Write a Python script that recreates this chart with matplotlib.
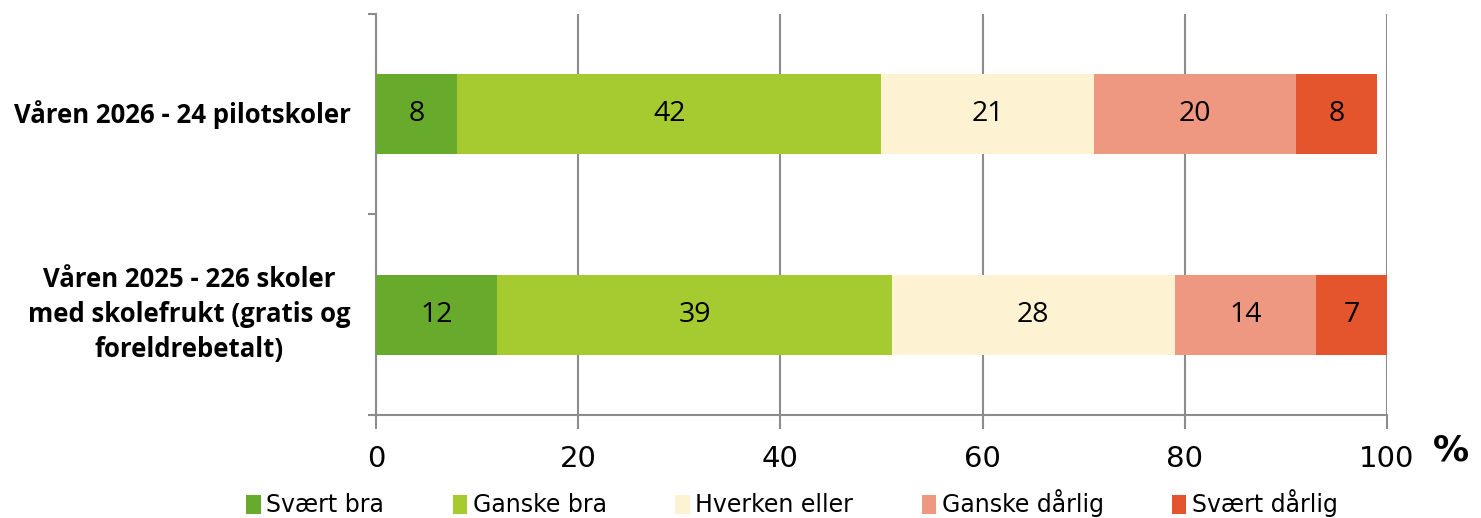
import matplotlib.pyplot as plt
import numpy as np

# Data
groups = ["Våren 2026 - 24 pilotskoler",
          "Våren 2025 - 226 skoler\nmed skolefrukt (gratis og\nforeldrebetalt)"]
answers = ["Svært bra", "Ganske bra", "Hverken eller", "Ganske dårlig", "Svært dårlig"]
values_2026 = [8, 42, 21, 20, 8]
values_2025 = [12, 39, 28, 14, 7]
colors = ["#68AA2B", "#A6CB30", "#FDF2D1", "#EF9881", "#E5552D"]
xticks = [0, 20, 40, 60, 80, 100]

narrow = ["Liberation Sans Narrow", "DejaVu Sans Condensed", "DejaVu Sans"]

fig = plt.figure(figsize=(14.81, 5.18), dpi=100)
ax = fig.add_axes([0.2539, 0.199, 0.6826, 0.774])

data = np.array([values_2026, values_2025])
ypos = np.array([1.5, 0.5])
left = np.zeros(2)
for i, name in enumerate(answers):
    ax.barh(ypos, data[:, i], left=left, height=0.4, color=colors[i],
            label=name, zorder=3)
    for y, l, v in zip(ypos, left, data[:, i]):
        ax.text(l + v / 2, y, str(v), ha="center", va="center",
                fontsize=20.5, family="Open Sans", zorder=4)
    left += data[:, i]

ax.set_xlim(0, 100)
ax.set_ylim(0, 2)
ax.set_xticks(xticks)
ax.set_xticklabels([str(t) for t in xticks], family=narrow, fontsize=21)
ax.set_yticks([0, 1, 2])
ax.set_yticklabels([])
ax.tick_params(axis="y", length=6, color="#8C8C8C", width=1.5)
ax.tick_params(axis="x", length=10, color="#8C8C8C", width=1.5, pad=12)
ax.grid(axis="x", color="#8C8C8C", linewidth=1.5, zorder=0)
for s in ["top", "right"]:
    ax.spines[s].set_visible(False)
for s in ["left", "bottom"]:
    ax.spines[s].set_color("#8C8C8C")
    ax.spines[s].set_linewidth(1.5)

for y, g in zip(ypos, groups):
    ax.text(-0.025, y, g, transform=ax.get_yaxis_transform(), ha="right",
            va="center", fontsize=18.5, fontweight="bold", family="Open Sans",
            multialignment="center", linespacing=1.38)

fig.text(0.992, 0.13, "%", ha="right", va="center", fontsize=26,
         fontweight="bold", family=narrow)

leg = fig.legend(loc="center", bbox_to_anchor=(0.535, 0.028), ncol=5,
                 frameon=False, prop={"family": narrow, "size": 17},
                 handlelength=0.6, handleheight=0.9, handletextpad=0.25,
                 columnspacing=2.9)

fig.savefig("out.png", dpi=100)
